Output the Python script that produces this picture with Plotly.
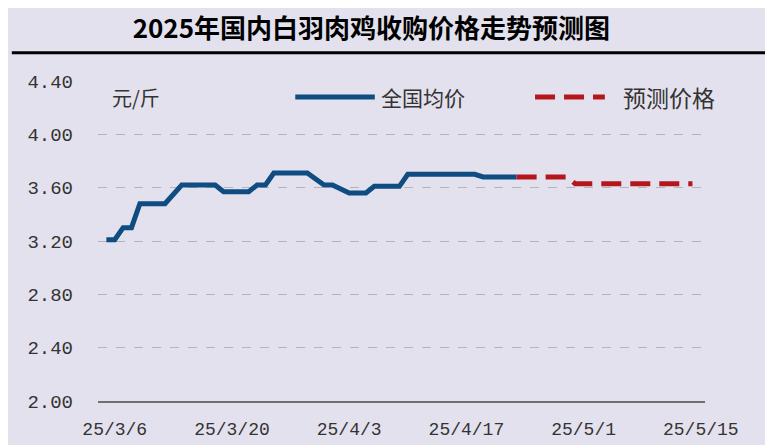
import plotly.graph_objects as go

# national average purchase price (yuan / jin)
actual_dates = ['2025-03-05', '2025-03-06', '2025-03-07', '2025-03-08', '2025-03-09',
                '2025-03-12', '2025-03-14', '2025-03-18', '2025-03-19', '2025-03-22',
                '2025-03-23', '2025-03-24', '2025-03-25', '2025-03-29', '2025-03-31',
                '2025-04-01', '2025-04-03', '2025-04-05', '2025-04-06', '2025-04-09',
                '2025-04-10', '2025-04-18', '2025-04-19', '2025-04-23']
actual_prices = [3.21, 3.21, 3.30, 3.30, 3.48,
                 3.48, 3.62, 3.62, 3.57, 3.57,
                 3.62, 3.62, 3.71, 3.71, 3.62,
                 3.62, 3.56, 3.56, 3.61, 3.61,
                 3.70, 3.70, 3.68, 3.68]

# forecast
forecast_dates = ['2025-04-23', '2025-04-29', '2025-04-30', '2025-05-14']
forecast_prices = [3.68, 3.68, 3.63, 3.63]

tick_dates = ['2025-03-06', '2025-03-20', '2025-04-03', '2025-04-17', '2025-05-01', '2025-05-15']
tick_labels = ['25/3/6', '25/3/20', '25/4/3', '25/4/17', '25/5/1', '25/5/15']
y_ticks = [2.0, 2.4, 2.8, 3.2, 3.6, 4.0, 4.4]

blue = '#0f4c81'
red = '#b3161b'
bg = '#e3e1ed'
cjk = 'Noto Sans CJK SC'

fig = go.Figure()

fig.add_trace(go.Scatter(
    x=actual_dates, y=actual_prices, mode='lines',
    line=dict(color=blue, width=5),
    name='全国均价', showlegend=False
))

fig.add_trace(go.Scatter(
    x=forecast_dates, y=forecast_prices, mode='lines',
    line=dict(color=red, width=5, dash='20px,9px'),
    name='预测价格', showlegend=False
))

# hand drawn legend, like the original
fig.add_shape(type='line', xref='paper', yref='paper', x0=0.325, x1=0.456, y0=0.95, y1=0.95,
              line=dict(color=blue, width=5))
fig.add_shape(type='line', xref='paper', yref='paper', x0=0.72, x1=0.835, y0=0.95, y1=0.95,
              line=dict(color=red, width=5, dash='20px,9px'))
# black rule under the title
fig.add_shape(type='line', xref='paper', yref='paper', x0=-0.142, x1=1.099, y0=1.088, y1=1.088,
              line=dict(color='black', width=3))

fig.add_annotation(text='元/斤', xref='paper', yref='paper', x=0.062, y=0.95,
                   xanchor='center', yanchor='middle',
                   showarrow=False, font=dict(size=20, family=cjk, color='#333333'))
fig.add_annotation(text='全国均价', xref='paper', yref='paper', x=0.463, y=0.95,
                   xanchor='left', yanchor='middle',
                   showarrow=False, font=dict(size=21, family=cjk, color='#333333'))
fig.add_annotation(text='预测价格', xref='paper', yref='paper', x=0.862, y=0.95,
                   xanchor='left', yanchor='middle',
                   showarrow=False, font=dict(size=23, family=cjk, color='#333333'))

# the page body adds an 8px offset, so the figure is 8px smaller than the window
fig.update_layout(
    width=765,
    height=437,
    paper_bgcolor=bg,
    plot_bgcolor=bg,
    margin=dict(l=90, r=68, t=73, b=44),
    title=dict(
        text='<b>2025年国内白羽肉鸡收购价格走势预测图</b>',
        x=0.475, xanchor='center',
        y=0.952, yanchor='middle',
        font=dict(size=26, family=cjk, color='black')
    ),
    xaxis=dict(
        type='date',
        range=['2025-03-04', '2025-05-15 12:00'],
        tickvals=tick_dates,
        ticktext=tick_labels,
        showgrid=False,
        zeroline=False,
        showline=True,
        linecolor='#707070',
        linewidth=2,
        ticks='',
        ticklabelstandoff=10,
        automargin=False,
        tickfont=dict(size=18, family='Liberation Mono', color='#333333')
    ),
    yaxis=dict(
        range=[2.0, 4.4],
        tickvals=y_ticks,
        tickformat='.2f',
        showgrid=True,
        gridcolor='#b4b3c0',
        gridwidth=1,
        griddash='dash',
        zeroline=False,
        showline=False,
        ticks='',
        ticklabelstandoff=24,
        automargin=False,
        tickfont=dict(size=19, family='Liberation Mono', color='#333333')
    ),
    showlegend=False
)

fig.write_html('out.html')
